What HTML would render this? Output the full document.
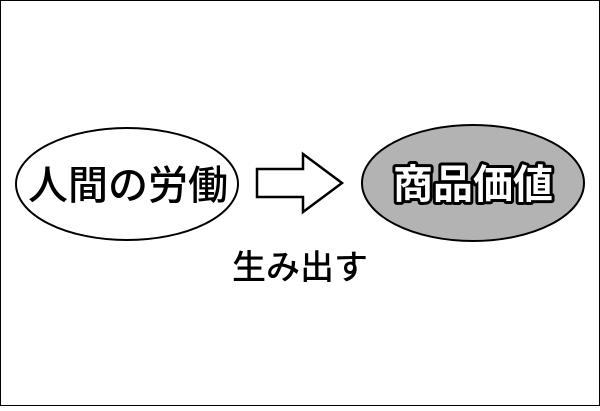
<!DOCTYPE html>
<html><head><meta charset="utf-8"><style>
html,body{margin:0;padding:0;background:#fff}
body{width:600px;height:406px;overflow:hidden}
</style></head><body>
<svg width="600" height="406" xmlns="http://www.w3.org/2000/svg">
<rect x="0.5" y="0.5" width="599" height="405" fill="#fff" stroke="#000" stroke-width="1"/>
<ellipse cx="127" cy="184" rx="111" ry="56" fill="#fff" stroke="#000" stroke-width="2"/>
<ellipse cx="473" cy="183" rx="111" ry="58" fill="#b3b3b3" stroke="#000" stroke-width="2"/>
<polygon points="257,169 303,169 303,154 342,183 303,212 303,197 257,197" fill="#fff" stroke="#000" stroke-width="2.5" stroke-linejoin="miter"/>
<g font-family="'Noto Sans CJK JP','WenQuanYi Zen Hei',sans-serif" text-anchor="middle">
<text x="128" y="199" font-size="40" font-weight="500" fill="#000">人間の労働</text>
<text x="473" y="198" font-size="40" font-weight="bold" fill="#fff" stroke="#000" stroke-width="6" paint-order="stroke" stroke-linejoin="round">商品価値</text>
<text x="300" y="279" font-size="34" font-weight="500" fill="#000">生み出す</text>
</g>
</svg>
</body></html>
